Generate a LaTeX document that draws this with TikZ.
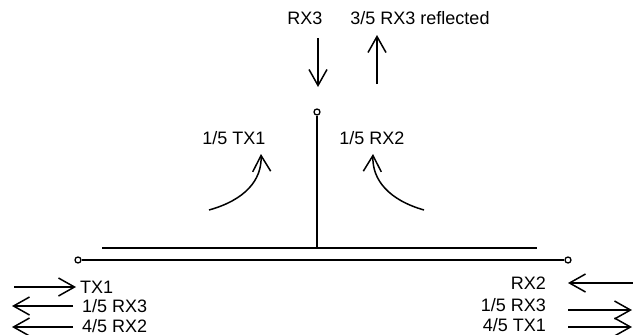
\documentclass[tikz,border=0pt]{standalone}
\usepackage{fontspec}
\setmainfont{Liberation Sans}
\usetikzlibrary{arrows.meta}
\tikzset{
  sig/.style={line width=1.5pt,-{Straight Barb[length=16pt,width=18pt]}},
  wire/.style={line width=1.6pt},
  lbl/.style={font=\fontsize{18}{20}\selectfont,inner sep=0pt},
  port/.style={circle,draw,line width=1.3pt,minimum size=6pt,inner sep=0pt}
}
\begin{document}
\begin{tikzpicture}[x=1pt,y=-1pt]
	\useasboundingbox (0,0) rectangle (633,335);
	% stub and lines
	\node[port] (ant) at (317,112) {};
	\node[port] (pl) at (78,260) {};
	\node[port] (pr) at (568,260) {};
	\draw [wire] (ant) -- (317,248);
	\draw [wire] (102,248) -- (537,248);
	\draw [wire] (pl) -- (pr);
	% top
	\node[lbl] (rx3) at (305,18) {RX3};
	\node[lbl] (rx3r) at (420,18) {3/5 RX3 reflected};
	\draw [sig] (318,38) -- (318,87);
	\draw [sig] (377,84) -- (377,35);
	% curved
	\node[lbl] (tx1c) at (234,138) {1/5 TX1};
	\node[lbl] (rx2c) at (372,138) {1/5 RX2};
	\draw [sig] (209,210) .. controls (245,200) and (262,180) .. (261,154);
	\draw [sig] (424,210) .. controls (389,200) and (372,180) .. (373,154);
	% left end
	\node[lbl,anchor=west] (ltx1) at (80,287) {TX1};
	\node[lbl,anchor=west] (lrx3) at (82,306) {1/5 RX3};
	\node[lbl,anchor=west] (lrx2) at (82,326) {4/5 RX2};
	\draw [sig] (14,287) -- (76,287);
	\draw [sig] (73,306) -- (12,306);
	\draw [sig] (73,327) -- (12,327);
	% right end
	\node[lbl,anchor=east] (rrx2) at (546,283) {RX2};
	\node[lbl,anchor=east] (rrx3) at (546,305) {1/5 RX3};
	\node[lbl,anchor=east] (rtx1) at (546,325) {4/5 TX1};
	\draw [sig] (633,283) -- (568,283);
	\draw [sig] (568,310) -- (632,310);
	\draw [sig] (568,327) -- (632,327);
\end{tikzpicture}
\end{document}
